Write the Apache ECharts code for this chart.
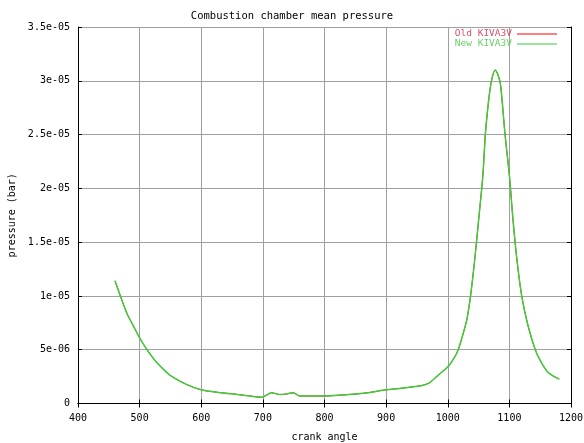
<!DOCTYPE html>
<html>
<head>
<meta charset="utf-8">
<script src="https://cdn.jsdelivr.net/npm/echarts@6/dist/echarts.min.js"></script>
<style>html,body{margin:0;padding:0;background:#fff;}#c{width:584px;height:443px;}</style>
</head>
<body>
<div id="c"></div>
<script>
var crankAngle = [460,470,480,490,500,512,525,540,550,575,600,625,650,679,698,705,714,728,740,749,760,800,830,863,900,922,944,960,971,980,990,1000,1010,1017,1025,1031,1037,1044,1050,1057,1061,1066,1071,1077,1083,1086,1093,1100,1106,1112,1120,1130,1142,1150,1161,1170,1181];
var oldPressure = [11.4,9.8,8.3,7.2,6.1,5.0,4.0,3.1,2.6,1.8,1.27,1.05,0.9,0.7,0.58,0.75,1.0,0.83,0.9,1.0,0.7,0.7,0.8,0.95,1.27,1.4,1.55,1.7,1.95,2.4,2.9,3.4,4.2,5.0,6.5,7.8,10.0,13.5,17,21.2,25,28,30,31.0,30.3,29.5,25,21.2,17,13.5,10.0,7.3,5.0,4.0,3.0,2.6,2.27];
var newPressure = [11.4,9.8,8.3,7.2,6.1,5.0,4.0,3.1,2.6,1.8,1.27,1.05,0.9,0.7,0.58,0.75,1.0,0.83,0.9,1.0,0.7,0.7,0.8,0.95,1.27,1.4,1.55,1.7,1.95,2.4,2.9,3.4,4.2,5.0,6.5,7.8,10.0,13.5,17,21.2,25,28,30,31.0,30.3,29.5,25,21.2,17,13.5,10.0,7.3,5.0,4.0,3.0,2.6,2.27];
var unitScale = 1e-6;
var xTicks = {min:400, max:1200, interval:100};
var yTicks = {min:0, max:3.5e-5, interval:5e-6};

function pairs(xs, ys){ return xs.map(function(x,i){ return [x, ys[i]*unitScale]; }); }
function fmtY(v){
  if (Math.abs(v) < 1e-12) return '0';
  var s = Number(v.toPrecision(6)).toExponential();
  return s.replace(/e([+-])(\d)$/, 'e$10$2');
}
function fmtX(v){ return String(v); }
var mono = 'DejaVu Sans Mono';
var fs = 10;
var oldColor = '#ff0000', newColor = '#3ccc3c';
var chart = echarts.init(document.getElementById('c'));
var axisLine = {show:true, lineStyle:{color:'#000', width:1}};
var tick = {show:true, inside:true, length:4, lineStyle:{color:'#000'}};
var grid = {show:true, lineStyle:{color:'#a0a0a0', width:1}};
chart.setOption({
  animation:false,
  backgroundColor:'#fff',
  title:{text:'Combustion chamber mean pressure', left:'center', top:6,
    textStyle:{fontFamily:mono, fontSize:10.5, fontWeight:'normal', color:'#000'}},
  grid:{left:78, right:13, top:27, bottom:39.5, outerBoundsMode:'none', containLabel:false},
  legend:{show:true, right:27, top:29, orient:'vertical', itemGap:0, itemWidth:40, itemHeight:1, align:'right',
    icon:'rect', padding:0,
    textStyle:{fontFamily:mono, fontSize:9.5, padding:[0,0,0,0], lineHeight:10},
    data:[{name:'Old KIVA3V', textStyle:{color:'#d8506a'}, itemStyle:{color:oldColor}},
          {name:'New KIVA3V', textStyle:{color:'#66d266'}, itemStyle:{color:newColor}}]},
  xAxis:[
    {type:'value', min:xTicks.min, max:xTicks.max, interval:xTicks.interval, name:'crank angle', nameLocation:'middle', nameGap:29,
     nameTextStyle:{fontFamily:mono, fontSize:fs, color:'#000'},
     axisLine:axisLine, axisTick:tick, splitLine:grid,
     axisLabel:{fontFamily:mono, fontSize:fs, color:'#000', margin:10, formatter:fmtX}},
    {type:'value', position:'top', min:xTicks.min, max:xTicks.max, interval:xTicks.interval,
     axisLine:axisLine, axisTick:tick, splitLine:{show:false}, axisLabel:{show:false}}
  ],
  yAxis:[
    {type:'value', min:yTicks.min, max:yTicks.max, interval:yTicks.interval, name:'pressure (bar)', nameLocation:'middle', nameGap:47,
     nameTextStyle:{fontFamily:mono, fontSize:fs, color:'#000'},
     axisLine:axisLine, axisTick:tick, splitLine:grid,
     axisLabel:{fontFamily:mono, fontSize:fs, color:'#000', margin:8, formatter:fmtY}},
    {type:'value', position:'right', min:yTicks.min, max:yTicks.max, interval:yTicks.interval,
     axisLine:axisLine, axisTick:tick, splitLine:{show:false}, axisLabel:{show:false}}
  ],
  series:[
    {name:'Old KIVA3V', type:'line', data:pairs(crankAngle, oldPressure), showSymbol:false, smooth:0.3,
     lineStyle:{color:oldColor, width:1}, itemStyle:{color:oldColor}},
    {name:'New KIVA3V', type:'line', data:pairs(crankAngle, newPressure), showSymbol:false, smooth:0.3,
     lineStyle:{color:newColor, width:1.5}, itemStyle:{color:newColor}}
  ]
});
</script>
</body>
</html>
